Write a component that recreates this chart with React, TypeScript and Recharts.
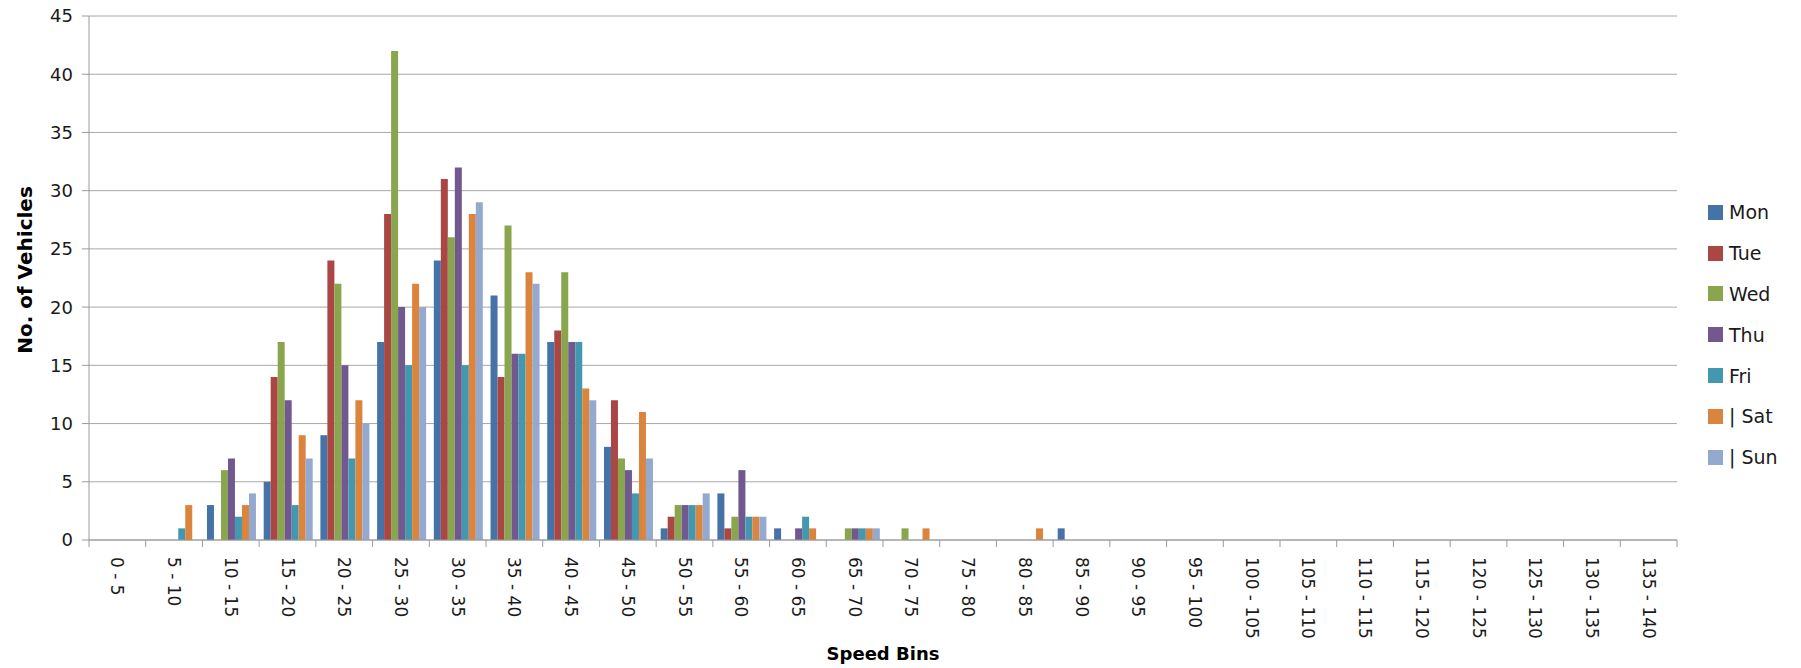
import React from "react";
import { Bar, BarChart, CartesianGrid, Legend, XAxis, YAxis } from "recharts";

const categories = [
  "0 - 5", "5 - 10", "10 - 15", "15 - 20", "20 - 25", "25 - 30", "30 - 35",
  "35 - 40", "40 - 45", "45 - 50", "50 - 55", "55 - 60", "60 - 65", "65 - 70",
  "70 - 75", "75 - 80", "80 - 85", "85 - 90", "90 - 95", "95 - 100",
  "100 - 105", "105 - 110", "110 - 115", "115 - 120", "120 - 125",
  "125 - 130", "130 - 135", "135 - 140",
];

const mon = [0, 0, 3, 5, 9, 17, 24, 21, 17, 8, 1, 4, 1, 0, 0, 0, 0, 1, 0, 0, 0, 0, 0, 0, 0, 0, 0, 0];
const tue = [0, 0, 0, 14, 24, 28, 31, 14, 18, 12, 2, 1, 0, 0, 0, 0, 0, 0, 0, 0, 0, 0, 0, 0, 0, 0, 0, 0];
const wed = [0, 0, 6, 17, 22, 42, 26, 27, 23, 7, 3, 2, 0, 1, 1, 0, 0, 0, 0, 0, 0, 0, 0, 0, 0, 0, 0, 0];
const thu = [0, 0, 7, 12, 15, 20, 32, 16, 17, 6, 3, 6, 1, 1, 0, 0, 0, 0, 0, 0, 0, 0, 0, 0, 0, 0, 0, 0];
const fri = [0, 1, 2, 3, 7, 15, 15, 16, 17, 4, 3, 2, 2, 1, 0, 0, 0, 0, 0, 0, 0, 0, 0, 0, 0, 0, 0, 0];
const sat = [0, 3, 3, 9, 12, 22, 28, 23, 13, 11, 3, 2, 1, 1, 1, 0, 1, 0, 0, 0, 0, 0, 0, 0, 0, 0, 0, 0];
const sun = [0, 0, 4, 7, 10, 20, 29, 22, 12, 7, 4, 2, 0, 1, 0, 0, 0, 0, 0, 0, 0, 0, 0, 0, 0, 0, 0, 0];

const yTicks = [0, 5, 10, 15, 20, 25, 30, 35, 40, 45];

const SERIES = [
  { key: "mon", name: "Mon", color: "#4572a7", values: mon },
  { key: "tue", name: "Tue", color: "#aa4643", values: tue },
  { key: "wed", name: "Wed", color: "#89a54e", values: wed },
  { key: "thu", name: "Thu", color: "#71588f", values: thu },
  { key: "fri", name: "Fri", color: "#4198af", values: fri },
  { key: "sat", name: "| Sat", color: "#db843d", values: sat },
  { key: "sun", name: "| Sun", color: "#93a9cf", values: sun },
];

const data = categories.map((bin, i) => {
  const row: Record<string, string | number> = { bin };
  SERIES.forEach((s) => (row[s.key] = s.values[i]));
  return row;
});

const W = 1801;
const H = 668;
const MARGIN = { top: 16, right: 124, left: 0, bottom: 0 };
const Y_AXIS_W = 89;
const STEP = (W - MARGIN.left - MARGIN.right - Y_AXIS_W) / categories.length;
const AXIS = "#9a9a9a";
const FONT = "DejaVu Sans";

function BinTick({ x, y, payload, index }: any) {
  const left = x - STEP / 2;
  const last = index === categories.length - 1;
  return (
    <g>
      <line x1={left} x2={left} y1={y} y2={y + 7} stroke={AXIS} />
      {last && <line x1={x + STEP / 2} x2={x + STEP / 2} y1={y} y2={y + 7} stroke={AXIS} />}
      <text
        x={x}
        y={y + 17}
        transform={`rotate(90 ${x} ${y + 17})`}
        dy="0.35em"
        textAnchor="start"
        fontSize={17}
        fontFamily={FONT}
        fill="#1a1a1a"
      >
        {payload.value}
      </text>
    </g>
  );
}

function DayLegend() {
  return (
    <div style={{ fontFamily: FONT, fontSize: 19, color: "#1a1a1a" }}>
      {SERIES.map((s) => (
        <div key={s.key} style={{ height: 40.8, display: "flex", alignItems: "center" }}>
          <span style={{ width: 15, height: 15, background: s.color, marginRight: 6, display: "inline-block" }} />
          <span style={{ whiteSpace: "pre" }}>{s.name}</span>
        </div>
      ))}
    </div>
  );
}

export default function App() {
  return (
    <div style={{ position: "absolute", left: 0, top: 0, width: W, height: H, background: "#fff" }}>
      <BarChart width={W} height={H} data={data} margin={MARGIN} barCategoryGap="8%" barGap={0}>
        <CartesianGrid vertical={false} stroke="#a8a8a8" />
        <XAxis
          dataKey="bin"
          interval={0}
          height={128}
          tickSize={0}
          tickMargin={0}
          tickLine={false}
          axisLine={{ stroke: AXIS }}
          tick={<BinTick />}
          label={({ viewBox }: any) => (
            <text
              x={viewBox.x + viewBox.width / 2}
              y={H - 8}
              textAnchor="middle"
              fontSize={18}
              fontWeight="bold"
              fontFamily={FONT}
              fill="#000"
            >
              Speed Bins
            </text>
          )}
        />
        <YAxis
          width={Y_AXIS_W}
          domain={[0, 45]}
          ticks={yTicks}
          interval={0}
          tickSize={7}
          tickMargin={9}
          tickLine={{ stroke: AXIS }}
          axisLine={{ stroke: AXIS }}
          tick={{ fontSize: 18, fontFamily: FONT, fill: "#1a1a1a" }}
          label={({ viewBox }: any) => {
            const cy = viewBox.y + viewBox.height / 2 - 8;
            return (
              <text
                x={25}
                y={cy}
                transform={`rotate(-90 25 ${cy})`}
                textAnchor="middle"
                dominantBaseline="central"
                fontSize={20}
                fontWeight="bold"
                fontFamily={FONT}
                fill="#000"
              >
                No. of Vehicles
              </text>
            );
          }}
        />
        <Legend
          layout="vertical"
          align="center"
          verticalAlign="middle"
          content={<DayLegend />}
          wrapperStyle={{ left: 1708, top: 192, width: 90 }}
        />
        {SERIES.map((s) => (
          <Bar key={s.key} dataKey={s.key} name={s.name} fill={s.color} isAnimationActive={false} />
        ))}
      </BarChart>
    </div>
  );
}
